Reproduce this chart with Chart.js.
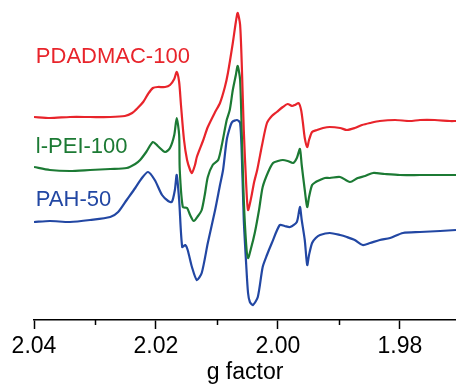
<!DOCTYPE html>
<html>
<head>
<meta charset="utf-8">
<script src="https://cdn.jsdelivr.net/npm/chart.js@4.4.1/dist/chart.umd.min.js"></script>
<style>
  html, body { margin: 0; padding: 0; background: #fff; }
  #wrap { width: 456px; height: 386px; }
</style>
</head>
<body>
<div id="wrap"><canvas id="epr"></canvas></div>
<script>
// g factor (x) and signal (arbitrary units, offset per trace)
const redG = [2.0400, 2.0374, 2.0341, 2.0308, 2.0275, 2.0251, 2.0239, 2.0230, 2.0221, 2.0213, 2.0205, 2.0197, 2.0185, 2.0177, 2.0170, 2.0166, 2.0162, 2.0159, 2.0154, 2.0149, 2.0144, 2.0141, 2.0136, 2.0133, 2.0123, 2.0115, 2.0103, 2.0095, 2.0087, 2.0082, 2.0074, 2.0069, 2.0066, 2.0062, 2.0059, 2.0056, 2.0052, 2.0049, 2.0044, 2.0039, 2.0034, 2.0026, 2.0018, 2.0010, 2.0002, 1.9992, 1.9984, 1.9977, 1.9972, 1.9966, 1.9962, 1.9959, 1.9956, 1.9952, 1.9949, 1.9944, 1.9936, 1.9926, 1.9915, 1.9898, 1.9887, 1.9874, 1.9862, 1.9849, 1.9833, 1.9808, 1.9784, 1.9767, 1.9743, 1.9718, 1.9708];
const redVals = [203, 202, 203, 203, 203, 204, 207, 212, 218, 226, 232, 233, 233, 235, 241, 248, 238, 215, 180, 160, 150, 147, 155, 163, 179, 193, 208, 217, 233, 247, 277, 298, 307, 295, 250, 190, 135, 110, 122, 138, 150, 175, 197, 204, 208, 213, 216, 214, 215, 217, 210, 197, 182, 173, 180, 188, 190, 192, 193, 192, 190, 192, 195, 197, 199, 200, 199, 200, 200, 199, 199];

const greenG = [2.0400, 2.0374, 2.0341, 2.0308, 2.0275, 2.0248, 2.0234, 2.0226, 2.0216, 2.0205, 2.0197, 2.0185, 2.0177, 2.0170, 2.0166, 2.0162, 2.0161, 2.0156, 2.0149, 2.0144, 2.0138, 2.0131, 2.0125, 2.0120, 2.0115, 2.0107, 2.0098, 2.0092, 2.0084, 2.0079, 2.0074, 2.0069, 2.0066, 2.0062, 2.0059, 2.0056, 2.0052, 2.0049, 2.0044, 2.0038, 2.0031, 2.0025, 2.0016, 2.0008, 2.0000, 1.9992, 1.9984, 1.9975, 1.9969, 1.9964, 1.9961, 1.9956, 1.9952, 1.9949, 1.9944, 1.9938, 1.9931, 1.9923, 1.9915, 1.9898, 1.9882, 1.9869, 1.9857, 1.9844, 1.9825, 1.9800, 1.9767, 1.9734, 1.9708];
const greenVals = [153, 150, 149, 150, 151, 152, 156, 160, 168, 178, 174, 168, 172, 185, 202, 185, 150, 113, 112, 105, 99, 104, 110, 125, 143, 155, 160, 175, 200, 210, 230, 245, 254, 240, 180, 120, 75, 62, 72, 87, 110, 133, 148, 157, 159, 160, 159, 157, 162, 171, 155, 130, 113, 123, 135, 138, 140, 142, 142, 143, 138, 142, 144, 147, 146, 145, 145, 145, 145];

const blueG = [2.0400, 2.0374, 2.0341, 2.0308, 2.0275, 2.0262, 2.0248, 2.0234, 2.0223, 2.0213, 2.0202, 2.0190, 2.0180, 2.0174, 2.0169, 2.0166, 2.0162, 2.0157, 2.0152, 2.0148, 2.0141, 2.0133, 2.0125, 2.0115, 2.0103, 2.0095, 2.0090, 2.0084, 2.0079, 2.0075, 2.0067, 2.0062, 2.0059, 2.0056, 2.0052, 2.0049, 2.0046, 2.0041, 2.0033, 2.0025, 2.0018, 2.0010, 1.9997, 1.9989, 1.9980, 1.9969, 1.9964, 1.9961, 1.9956, 1.9952, 1.9949, 1.9944, 1.9938, 1.9931, 1.9915, 1.9898, 1.9887, 1.9874, 1.9861, 1.9849, 1.9833, 1.9816, 1.9795, 1.9767, 1.9734, 1.9708];
const blueVals = [98, 99, 98, 100, 103, 108, 120, 132, 142, 148, 140, 125, 119, 118, 130, 145, 120, 73, 75, 70, 53, 40, 47, 77, 110, 135, 150, 180, 192, 198, 200, 197, 160, 100, 55, 27, 18, 15, 23, 53, 65, 77, 95, 94, 93, 98, 113, 100, 80, 55, 65, 77, 82, 85, 87, 85, 83, 80, 75, 77, 80, 82, 87, 88, 89, 90];

const seriesNames = ["PDADMAC-100", "l-PEI-100", "PAH-50"];
const seriesColors = ["#e8242b", "#1c7a34", "#2247a3"];
const nameG = [2.0397, 2.0397, 2.0397];
const nameY = [263, 173, 120];

const majorTicks = [2.04, 2.02, 2.00, 1.98];
const minorTicks = [2.03, 2.01, 1.99];

function pts(gs, vs) {
    return gs.map((g, i) => ({ x: g, y: vs[i] }));
}

const seriesData = [pts(redG, redVals), pts(greenG, greenVals), pts(blueG, blueVals)];

// trace names and minor ticks
const extras = {
    id: "extras",
    afterDraw(chart) {
        const ctx = chart.ctx;
        const xs = chart.scales.x;
        const ys = chart.scales.y;
        ctx.save();
        ctx.font = "22px 'Liberation Sans', Arial, sans-serif";
        ctx.textAlign = "left";
        ctx.textBaseline = "middle";
        seriesNames.forEach((n, i) => {
            ctx.fillStyle = seriesColors[i];
            ctx.fillText(n, xs.getPixelForValue(nameG[i]), ys.getPixelForValue(nameY[i]));
        });
        ctx.strokeStyle = "#000";
        ctx.lineWidth = 1.5;
        const top = chart.chartArea.bottom;
        minorTicks.forEach((t) => {
            const px = Math.round(xs.getPixelForValue(t)) + 0.5;
            ctx.beginPath();
            ctx.moveTo(px, top);
            ctx.lineTo(px, top + 5);
            ctx.stroke();
        });
        ctx.restore();
    },
};

new Chart(document.getElementById("epr"), {
    type: "line",
    data: {
        datasets: seriesData.map((d, i) => ({
            label: seriesNames[i],
            data: d,
            borderColor: seriesColors[i],
            borderWidth: 2.2,
            borderJoinStyle: "round",
            pointRadius: 0,
            tension: 0.25,
            fill: false,
        })),
    },
    options: {
        responsive: true,
        maintainAspectRatio: false,
        animation: false,
        layout: { padding: { left: 34, right: 0, top: 0, bottom: 0 } },
        plugins: {
            legend: { display: false },
            tooltip: { enabled: false },
        },
        scales: {
            x: {
                type: "linear",
                reverse: true,
                min: 1.9708,
                max: 2.04,
                afterBuildTicks: (s) => {
                    s.ticks = majorTicks.map((v) => ({ value: v }));
                },
                afterFit: (s) => {
                    s.height = 66;
                },
                border: { display: true, color: "#000", width: 1.5 },
                grid: {
                    drawOnChartArea: false,
                    drawTicks: true,
                    tickLength: 9,
                    tickColor: "#000",
                    tickWidth: 1.5,
                },
                ticks: {
                    color: "#000",
                    padding: 4,
                    maxRotation: 0,
                    autoSkip: false,
                    font: { family: "'Liberation Sans', Arial, sans-serif", size: 23 },
                    callback: (v) => v.toFixed(2),
                },
                title: {
                    display: true,
                    text: "g factor",
                    color: "#000",
                    padding: { top: 0, bottom: 0 },
                    font: { family: "'Liberation Sans', Arial, sans-serif", size: 23 },
                },
            },
            y: {
                display: false,
                min: 0,
                max: 320,
            },
        },
    },
    plugins: [extras],
});
</script>
</body>
</html>
